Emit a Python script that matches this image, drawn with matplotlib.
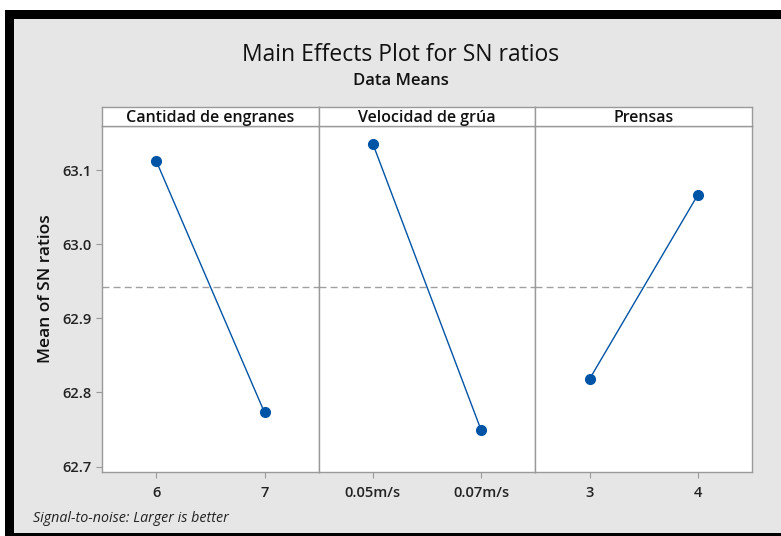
import matplotlib.pyplot as plt
from matplotlib.patches import Rectangle

plt.rcParams['font.family'] = ['Open Sans', 'DejaVu Sans']

# data
factors = ["Cantidad de engranes", "Velocidad de grúa", "Prensas"]
levels = [["6", "7"], ["0.05m/s", "0.07m/s"], ["3", "4"]]
sn_means = [[63.113, 62.773], [63.136, 62.749], [62.818, 63.067]]
grand_mean = 62.943
yticks = [62.7, 62.8, 62.9, 63.0, 63.1]

W, H = 781, 536
fig = plt.figure(figsize=(W / 100, H / 100), dpi=100)
fig.patch.set_facecolor("white")

# black frame and gray panel (screenshot look)
fig.patches.append(Rectangle((5 / W, 0), 1, 1 - 10 / H, transform=fig.transFigure,
                             facecolor="black", edgecolor="none", zorder=-3))
fig.patches.append(Rectangle((14 / W, 3 / H), 1, 1 - 22 / H, transform=fig.transFigure,
                             facecolor="#e6e6e6", edgecolor="none", zorder=-2))

fig.text(401 / W, 1 - 55 / H, "Main Effects Plot for SN ratios", ha="center", va="center",
         fontsize=16.5, fontweight="medium", color="#111111")
fig.text(401 / W, 1 - 81 / H, "Data Means", ha="center", va="center",
         fontsize=12, fontweight="semibold", color="#111111")

line_col = "#0054a6"
edge_col = "#9a9a9a"
left, right = 102, 752
top, bottom, head_top = 126, 471.7, 107.3
pw = (right - left) / 3

for i in range(3):
    x0 = left + i * pw
    ax = fig.add_axes([x0 / W, 1 - bottom / H, pw / W, (bottom - top) / H])
    ax.set_facecolor("white")
    ax.plot([1, 2], sn_means[i], color=line_col, lw=1, marker="o", ms=7, zorder=3)
    ax.axhline(grand_mean, color="#a0a0a0", lw=1, ls=(0, (5, 3)), zorder=1)
    ax.set_xlim(0.5, 2.5)
    ax.set_ylim(62.693, 63.160)
    ax.set_xticks([1, 2])
    ax.set_xticklabels(levels[i], fontweight="semibold")
    ax.tick_params(axis="x", length=4, color=edge_col, labelsize=10.5, labelcolor="#222222", pad=6)
    for s in ax.spines.values():
        s.set_color(edge_col)
        s.set_linewidth(1)
    if i == 0:
        ax.set_yticks(yticks)
        ax.set_yticklabels([f"{v:.1f}" for v in yticks], fontweight="semibold")
        ax.tick_params(axis="y", length=4, color=edge_col, labelsize=10.5, labelcolor="#222222")
    else:
        ax.set_yticks([])
    # header strip
    hx = fig.add_axes([x0 / W, 1 - top / H, pw / W, (top - head_top) / H])
    hx.set_facecolor("white")
    hx.set_xticks([])
    hx.set_yticks([])
    for s in hx.spines.values():
        s.set_color(edge_col)
        s.set_linewidth(1)
    hx.text(0.5, 0.45, factors[i], ha="center", va="center", fontsize=11.5,
            fontweight="semibold", color="#111111", transform=hx.transAxes)

fig.text(46 / W, 1 - 289 / H, "Mean of SN ratios", rotation=90, ha="center", va="center",
         fontsize=12.5, fontweight="semibold", color="#111111")
fig.text(33 / W, 1 - 519 / H, "Signal-to-noise: Larger is better", ha="left", va="center",
         fontsize=10.3, style="italic", color="#222222")

fig.savefig("out.png", dpi=100)
